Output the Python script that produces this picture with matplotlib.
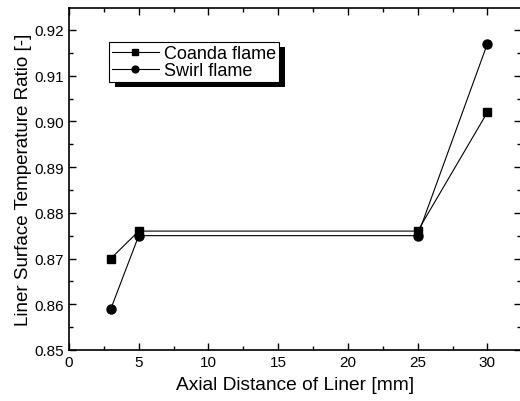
import matplotlib.pyplot as plt
from matplotlib.patches import Rectangle
from matplotlib.transforms import IdentityTransform

plt.rcParams['font.family'] = ['Liberation Sans', 'DejaVu Sans']

distance = [3, 5, 25, 30]
coanda = [0.870, 0.876, 0.876, 0.902]
swirl = [0.859, 0.875, 0.875, 0.917]

fig = plt.figure(figsize=(5.2, 4.02), dpi=100)
ax = fig.add_axes([0.1327, 0.127, 0.869, 0.8506])

ax.plot(distance, coanda, color='black', lw=0.8, marker='s', ms=6.2, label='Coanda flame')
ax.plot(distance, swirl, color='black', lw=0.8, marker='o', ms=6.5, label='Swirl flame')

ax.set_xlim(0, 32.4)
ax.set_ylim(0.85, 0.9248)
ax.set_xticks([0, 5, 10, 15, 20, 25, 30])
ax.set_xticks([2.5, 7.5, 12.5, 17.5, 22.5, 27.5], minor=True)
ax.set_yticks([0.85, 0.86, 0.87, 0.88, 0.89, 0.90, 0.91, 0.92])
ax.set_yticks([0.855, 0.865, 0.875, 0.885, 0.895, 0.905, 0.915], minor=True)
ax.yaxis.set_major_formatter(plt.FormatStrFormatter('%.2f'))
ax.tick_params(which='both', direction='in', top=True, right=True, labelsize=11, width=1)
ax.tick_params(which='major', length=5)
ax.tick_params(which='minor', length=3)
for s in ax.spines.values():
    s.set_linewidth(1.2)

ax.set_xlabel('Axial Distance of Liner [mm]', fontsize=13.8, labelpad=5)
ax.set_ylabel('Liner Surface Temperature Ratio [-]', fontsize=13.5, labelpad=2)

leg = ax.legend(loc='upper left', bbox_to_anchor=(0.089, 0.90), fontsize=13,
                fancybox=False, edgecolor='black', framealpha=1, handlelength=2.6,
                borderpad=0.15, labelspacing=0.0, handletextpad=0.3, borderaxespad=0,
                markerscale=0.75)
leg.get_frame().set_linewidth(0.8)
leg.set_zorder(5)

fig.canvas.draw()
bb = leg.get_window_extent()
shadow = Rectangle((bb.x0 + 6, bb.y0 - 5), bb.width, bb.height, transform=IdentityTransform(),
                   facecolor='black', edgecolor='none', zorder=4)
ax.add_patch(shadow)

fig.savefig('out.png', dpi=100)
